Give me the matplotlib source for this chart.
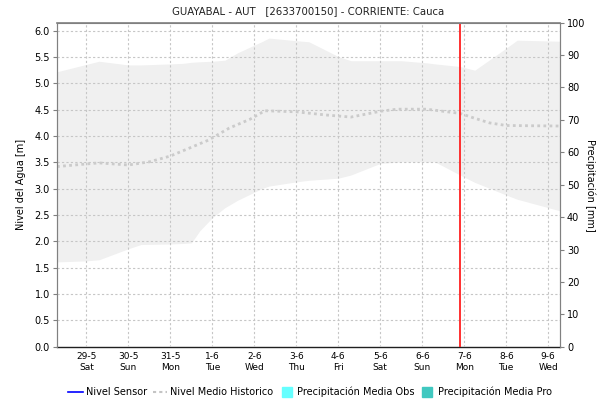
import matplotlib
matplotlib.use("Agg")
import matplotlib.pyplot as plt
from matplotlib.lines import Line2D
import numpy as np

plt.rcParams['font.family'] = ['DejaVu Sans']

# ---- data (x in days relative to 29-5) ----
tick_dates = ["29-5", "30-5", "31-5", "1-6", "2-6", "3-6", "4-6", "5-6", "6-6", "7-6", "8-6", "9-6"]
tick_days = ["Sat", "Sun", "Mon", "Tue", "Wed", "Thu", "Fri", "Sat", "Sun", "Mon", "Tue", "Wed"]

band_x = [-0.7, 0.0, 0.3, 1.0, 1.3, 2.0, 2.3, 2.5, 2.7, 3.0, 3.3, 3.6, 4.2, 4.35, 5.0, 5.3,
          6.0, 6.3, 7.0, 7.5, 8.1, 8.3, 8.9, 9.25, 10.0, 10.26, 11.28]
band_upper = [5.22, 5.36, 5.42, 5.35, 5.35, 5.37, 5.38, 5.40, 5.41, 5.42, 5.44, 5.58, 5.80, 5.86, 5.81, 5.79,
              5.51, 5.43, 5.43, 5.43, 5.39, 5.37, 5.32, 5.25, 5.67, 5.82, 5.80]
band_lower = [1.61, 1.63, 1.65, 1.86, 1.94, 1.95, 1.96, 1.97, 2.20, 2.45, 2.64, 2.78, 3.01, 3.05, 3.13, 3.16,
              3.20, 3.26, 3.48, 3.51, 3.51, 3.51, 3.26, 3.12, 2.88, 2.80, 2.58]

mean_x = [-0.7, 0.0, 0.3, 1.0, 1.5, 2.0, 2.9, 3.4, 3.9, 4.25, 5.0, 5.7, 6.3, 7.0, 7.4, 8.1, 8.9,
          9.2, 9.6, 10.0, 11.28]
mean_y = [3.42, 3.47, 3.49, 3.45, 3.51, 3.62, 3.92, 4.15, 4.32, 4.48, 4.46, 4.40, 4.36, 4.47, 4.51, 4.51, 4.43,
          4.35, 4.25, 4.20, 4.19]

now_x = 8.9

title = "GUAYABAL - AUT   [2633700150] - CORRIENTE: Cauca"

# ---- figure ----
fig = plt.figure(figsize=(6.03, 4.03), dpi=100)
ax = fig.add_axes([57/603, 1 - 346.7/403, (560 - 57)/603, (346.7 - 22.7)/403])
ax2 = ax.twinx()

ax.fill_between(band_x, band_lower, band_upper, color="#f0f0f0", lw=0, zorder=1)
ax.plot(mean_x, mean_y, color="#cbcbcb", lw=2, linestyle=(0, (1, 1.2)), zorder=3)
ax.axvline(now_x, color="#ff2020", lw=1.3, zorder=4)

xt = np.arange(len(tick_dates))
ax.set_xlim(-0.7, 11.28)
ax.set_ylim(0, 6.152)
ax2.set_ylim(0, 100)
ax.set_xticks(xt)
ax.set_xticklabels([f"{d}\n{w}" for d, w in zip(tick_dates, tick_days)], fontsize=6.5, linespacing=1.3)
ax.set_yticks(np.arange(0, 6.01, 0.5))
ax.set_yticklabels([f"{v:.1f}" for v in np.arange(0, 6.01, 0.5)], fontsize=7)
ax2.set_yticks(np.arange(0, 101, 10))
ax2.set_yticklabels([str(v) for v in range(0, 101, 10)], fontsize=7)

ax.grid(True, color="#c6c6c6", linestyle=(0, (2, 2)), lw=0.8, zorder=2)
ax.set_axisbelow(False)
for a in (ax, ax2):
    a.tick_params(axis="y", length=3, width=0.8, color="#808080", pad=2)
    for s in a.spines.values():
        s.set_color("#808080")
ax.tick_params(axis="x", length=0, pad=4)
ax2.spines["bottom"].set_visible(False)
ax.spines["bottom"].set_color("#202020")
ax.spines["bottom"].set_linestyle((0, (1, 1)))
ax.spines["bottom"].set_linewidth(1.0)
ax.spines["top"].set_linewidth(1.2)

ax.set_ylabel("Nivel del Agua [m]", fontsize=7, labelpad=6)
fig.text(590/603, 1 - 185/403, "Precipitación [mm]", rotation=270, ha="center", va="center", fontsize=7)
fig.text(308/603, 1 - 11/403, title, ha="center", va="center", fontsize=7.3, color="#202020")

handles = [
    Line2D([], [], color="#0000ff", lw=1.2),
    Line2D([], [], color="#c4c4c4", lw=1.5, linestyle=(0, (1.5, 1.5))),
    Line2D([], [], color="#66ffff", marker="s", markersize=7, linestyle="none"),
    Line2D([], [], color="#40c8c0", marker="s", markersize=7, linestyle="none"),
]
labels = ["Nivel Sensor", "Nivel Medio Historico", "Precipitación Media Obs", "Precipitación Media Pro"]
fig.legend(handles, labels, loc="center", bbox_to_anchor=(310/603, 1 - 392/403), ncol=4, frameon=False,
           fontsize=7, handlelength=1.5, handletextpad=0.3, columnspacing=0.6)

fig.savefig("out.png", dpi=100)
